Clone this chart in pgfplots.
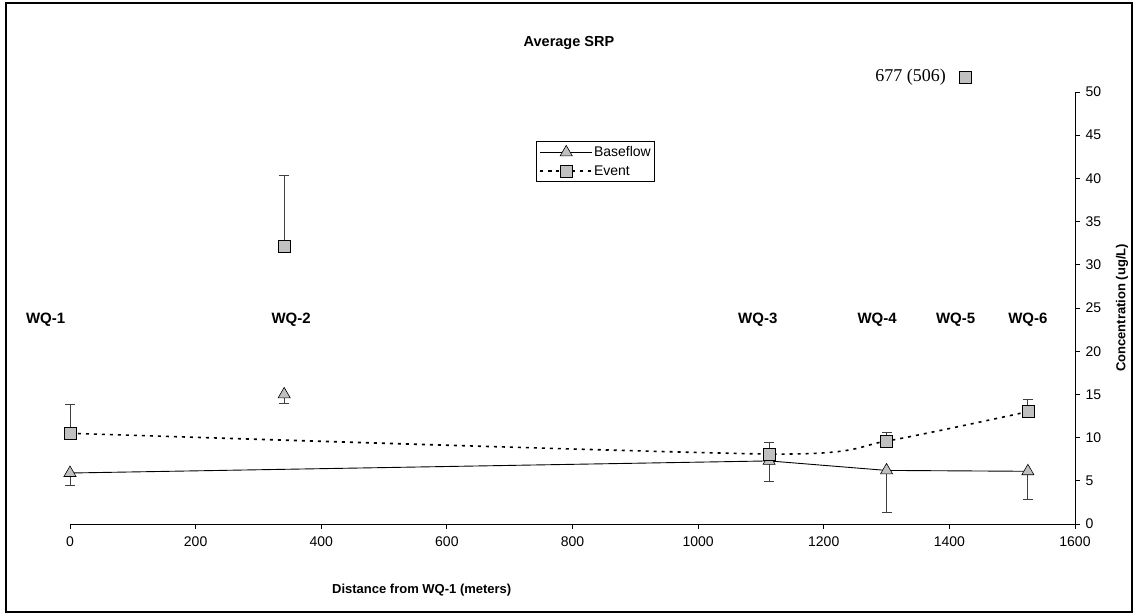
\documentclass[border=0pt]{standalone}
\usepackage{pgfplots}
\pgfplotsset{compat=1.18}
\usepackage{fontspec}
\setmainfont{Liberation Sans}
\newfontfamily\serifnum{Liberation Serif}
\definecolor{mk}{HTML}{C0C0C0}
\begin{document}
\begin{tikzpicture}
\useasboundingbox (0pt,0pt) rectangle (1138pt,615pt);
\draw[black, line width=1.2pt] (6pt,3pt) rectangle (1132pt,612pt);
\node[font=\fontsize{14.5}{16}\selectfont\bfseries] at (569pt,572pt) {Average SRP};
\begin{axis}[
  at={(70pt,91pt)}, anchor=south west,
  scale only axis, width=1005pt, height=432pt,
  xmin=0, xmax=1600, ymin=0, ymax=50,
  axis x line*=bottom, axis y line*=right,
  axis line style={-, black, line width=0.8pt},
  xtick={0,200,...,1600}, ytick={0,5,...,50},
  tick align=outside, major tick length=5pt,
  tick style={black, line width=0.8pt},
  /pgf/number format/assume math mode=true,
  /pgf/number format/set thousands separator={},
  tick label style={font=\fontsize{14}{16}\selectfont},
  xticklabel style={yshift=-4pt},
  yticklabel style={xshift=2pt},
  clip=false,
  legend style={at={(rel axis cs:0.4637,0.8866)}, anchor=north west,
    draw=black, line width=0.8pt, font=\fontsize{14}{16}\selectfont,
    inner xsep=3pt, inner ysep=4pt, row sep=7pt,
    nodes={inner xsep=1pt, inner ysep=0pt}},
  legend cell align=left,
  legend image code/.code={\draw[mark repeat=2,mark phase=2,#1] plot coordinates {(0pt,0pt)(26pt,0pt)(52pt,0pt)};},
  error bars/error bar style={solid, line width=0.8pt, black!75},
  error bars/error mark options={solid, rotate=90, mark size=5pt, line width=0.8pt, black!75},
]
% Baseflow (connected)
\addplot[black, line width=0.9pt, mark=triangle*, mark size=7pt,
  mark options={fill=mk, draw=black, line width=0.6pt, solid},
  error bars/.cd, y dir=minus, y explicit]
  coordinates {(0,5.9) -= (0,1.4) (1113,7.3) -= (0,2.4) (1300,6.2) -= (0,4.9) (1525,6.1) -= (0,3.3)};
\addlegendentry{Baseflow}
% Event (connected)
\addplot[black, line width=1.6pt, dash pattern=on 3pt off 5pt, smooth, tension=0.4, mark=square*, mark size=6pt,
  mark options={fill=mk, draw=black, line width=0.6pt, solid},
  error bars/.cd, y dir=plus, y explicit]
  coordinates {(0,10.5) += (0,3.3) (1113,8.1) += (0,1.3) (1300,9.6) += (0,1.0) (1525,13.0) += (0,1.4)};
\addlegendentry{Event}
% WQ-2 baseflow
\addplot[forget plot, only marks, mark=triangle*, mark size=7pt,
  mark options={fill=mk, draw=black, line width=0.6pt},
  error bars/.cd, y dir=minus, y explicit]
  coordinates {(341,15.0) -= (0,1.0)};
% WQ-2 event
\addplot[forget plot, only marks, mark=square*, mark size=6pt,
  mark options={fill=mk, draw=black, line width=0.6pt},
  error bars/.cd, y dir=plus, y explicit]
  coordinates {(341,32.1) += (0,8.3)};
% WQ-5 event (off scale)
\addplot[forget plot, only marks, mark=square*, mark size=6pt,
  mark options={fill=mk, draw=black, line width=0.6pt}]
  coordinates {(1425,51.7)};
\node[anchor=east, font=\serifnum\fontsize{18}{20}\selectfont] at (axis cs:1400,51.7) {677 (506)};
% site labels
\node[anchor=east, font=\fontsize{15}{17}\selectfont\bfseries] at (axis cs:-2,23.6) {WQ-1};
\node[font=\fontsize{15}{17}\selectfont\bfseries] at (axis cs:352,23.6) {WQ-2};
\node[font=\fontsize{15}{17}\selectfont\bfseries] at (axis cs:1095,23.6) {WQ-3};
\node[font=\fontsize{15}{17}\selectfont\bfseries] at (axis cs:1285,23.6) {WQ-4};
\node[font=\fontsize{15}{17}\selectfont\bfseries] at (axis cs:1410,23.6) {WQ-5};
\node[font=\fontsize{15}{17}\selectfont\bfseries] at (axis cs:1525,23.6) {WQ-6};
% axis titles
\node[font=\fontsize{13}{15}\selectfont\bfseries] at ([yshift=-66pt]axis cs:560,0) {Distance from WQ-1 (meters)};
\node[rotate=90, font=\fontsize{13}{15}\selectfont\bfseries] at ([xshift=47pt]rel axis cs:1,0.5) {Concentration (ug/L)};
\end{axis}
\end{tikzpicture}
\end{document}
